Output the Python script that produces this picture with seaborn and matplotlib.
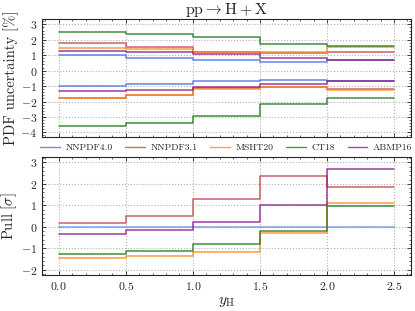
import matplotlib
matplotlib.use("Agg")
import matplotlib.pyplot as plt
import numpy as np
import pandas as pd
import seaborn as sns
from matplotlib.ticker import AutoMinorLocator

# bin edges in y_H
edges = [0.0, 0.5, 1.0, 1.5, 2.0, 2.5]
pdf_sets = ["NNPDF4.0", "NNPDF3.1", "MSHT20", "CT18", "ABMP16"]
colors = ["#4a72e0", "#c0474a", "#ff8c1a", "#1f7a1f", "#8b1a8b"]

# PDF uncertainty [%] per bin (upper / lower)
unc_up = {
    "NNPDF4.0": [1.00, 0.85, 0.67, 0.59, 0.67],
    "NNPDF3.1": [1.82, 1.54, 1.18, 1.17, 1.19],
    "MSHT20": [1.47, 1.39, 1.21, 1.20, 1.55],
    "CT18": [2.51, 2.39, 2.15, 1.76, 1.62],
    "ABMP16": [1.30, 1.24, 1.07, 0.85, 0.72],
}
unc_down = {
    "NNPDF4.0": [-1.00, -0.85, -0.68, -0.59, -0.70],
    "NNPDF3.1": [-1.78, -1.56, -1.15, -1.05, -1.20],
    "MSHT20": [-1.80, -1.61, -1.22, -1.09, -1.26],
    "CT18": [-3.56, -3.39, -2.93, -2.15, -1.74],
    "ABMP16": [-1.30, -1.26, -1.05, -0.87, -0.68],
}

# pull [sigma] w.r.t. NNPDF4.0
pull = {
    "NNPDF4.0": [0.0, 0.0, 0.0, 0.0, 0.0],
    "NNPDF3.1": [0.19, 0.51, 1.28, 2.36, 1.87],
    "MSHT20": [-1.43, -1.36, -1.16, -0.29, 1.11],
    "CT18": [-1.28, -1.12, -0.81, -0.21, 0.96],
    "ABMP16": [-0.34, -0.15, 0.23, 1.02, 2.67],
}


def _step_frame(series: dict, side: str) -> pd.DataFrame:
    rows = []
    for name in pdf_sets:
        vals = list(series[name]) + [series[name][-1]]
        for x, v in zip(edges, vals):
            rows.append({"y_H": x, "value": v, "pdf": name, "side": side})
    return pd.DataFrame(rows)


sns.set_theme(style="ticks")
plt.rcParams.update({
    "font.family": "serif",
    "font.serif": ["cmr10", "DejaVu Serif"],
    "mathtext.fontset": "cm",
    "axes.formatter.use_mathtext": True,
    "axes.unicode_minus": True,
    "font.size": 8,
    "xtick.labelsize": 8.5,
    "ytick.labelsize": 8.5,
    "axes.linewidth": 0.8,
})

palette = dict(zip(pdf_sets, colors))

fig = plt.figure(figsize=(4.15, 3.11), dpi=100)
ax_top = fig.add_axes([0.101, 0.558, 0.889, 0.381])
ax_bot = fig.add_axes([0.101, 0.116, 0.889, 0.380])

df_unc = pd.concat([_step_frame(unc_up, "up"), _step_frame(unc_down, "down")], ignore_index=True)
sns.lineplot(data=df_unc, x="y_H", y="value", hue="pdf", units="side", estimator=None,
             palette=palette, hue_order=pdf_sets, drawstyle="steps-post", linewidth=1.1,
             alpha=0.85, legend=False, ax=ax_top)

df_pull = _step_frame(pull, "c")
sns.lineplot(data=df_pull, x="y_H", y="value", hue="pdf", estimator=None,
             palette=palette, hue_order=pdf_sets, drawstyle="steps-post", linewidth=1.1,
             alpha=0.85, legend=False, ax=ax_bot)
ax_bot.lines[0].set_alpha(0.5)
ax_bot.lines[0].set_linewidth(1.5)

for ax in (ax_top, ax_bot):
    ax.set_xlim(-0.125, 2.625)
    ax.set_xticks([0.0, 0.5, 1.0, 1.5, 2.0, 2.5])
    ax.xaxis.set_minor_locator(AutoMinorLocator(5))
    ax.yaxis.set_minor_locator(AutoMinorLocator(5))
    ax.tick_params(which="both", direction="in", top=True, right=True)
    ax.tick_params(which="major", length=3, width=0.6)
    ax.tick_params(which="minor", length=1.5, width=0.5)
    ax.grid(True, which="major", linestyle=":", color="#b0b0b0", linewidth=0.8)

ax_top.set_ylim(-4.33, 3.35)
ax_top.set_yticks(np.arange(-4, 4, 1))
ax_top.set_xticklabels([])
ax_top.set_xlabel("")
ax_top.set_ylabel("PDF uncertainty [%]", fontsize=10.5)
ax_top.yaxis.set_label_coords(-0.062, 0.5)
ax_top.set_title(r"$\mathrm{pp} \to \mathrm{H} + \mathrm{X}$", fontsize=11.5, pad=3)

ax_bot.set_ylim(-2.24, 3.26)
ax_bot.set_yticks(np.arange(-2, 4, 1))
ax_bot.set_xlabel(r"$y_{\mathrm{H}}$", fontsize=11, labelpad=2)
ax_bot.set_ylabel(r"Pull [$\sigma$]", fontsize=10.5)
ax_bot.yaxis.set_label_coords(-0.062, 0.5)

handles = [plt.Line2D([], [], color=c, alpha=0.8, linewidth=1.0) for c in colors]
fig.legend(handles, pdf_sets, loc="center", bbox_to_anchor=(0.5455, 0.525), ncol=5,
           frameon=False, fontsize=7, handlelength=2.0, columnspacing=1.3, handletextpad=0.6,
           borderpad=0.1)

fig.savefig("out.png", dpi=100)
